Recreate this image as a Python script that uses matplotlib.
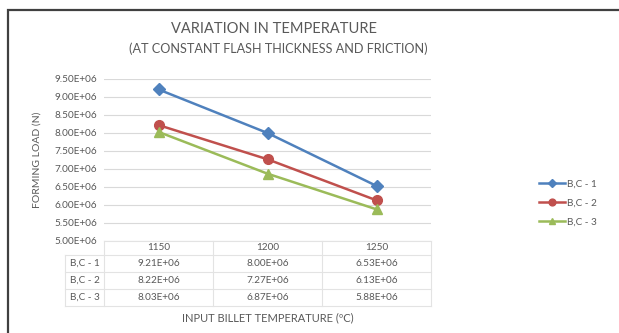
import matplotlib
matplotlib.use('Agg')
import matplotlib.pyplot as plt
from matplotlib.patches import Rectangle
from matplotlib.lines import Line2D
from matplotlib.ticker import FuncFormatter, MultipleLocator
from matplotlib.transforms import blended_transform_factory

plt.rcParams['font.family'] = ['Lato', 'DejaVu Sans']

# Data
temps = ['1150', '1200', '1250']
series_names = ['B,C - 1', 'B,C - 2', 'B,C - 3']
bc1 = [9.21e6, 8.00e6, 6.53e6]
bc2 = [8.22e6, 7.27e6, 6.13e6]
bc3 = [8.03e6, 6.87e6, 5.88e6]

colors = ['#4F81BD', '#C0504D', '#9BBB59']
markers = ['D', 'o', '^']
txt = '#595959'
grid_c = '#D9D9D9'
fs = 7.2

fig = plt.figure(figsize=(6.19, 3.33), dpi=100)
W, H = 619, 333

# outer chart frame (bottom/right run off the picture)
fig.patches.append(Rectangle((8 / W, -0.1), 1.2, 1 - 10 / H + 0.1,
                             transform=fig.transFigure, fill=False,
                             edgecolor='#404040', linewidth=1.6))

ax = fig.add_axes([104 / W, 1 - 241 / H, (431 - 104) / W, (241 - 79) / H])
x = range(len(temps))
for vals, name, c, m in zip([bc1, bc2, bc3], series_names, colors, markers):
    ax.plot(x, vals, color=c, marker=m, markersize=7 if m != 'D' else 6,
            linewidth=1.8, label=name)

ax.set_xlim(-0.5, 2.5)
ax.set_ylim(5.0e6, 9.5e6)
ax.yaxis.set_major_locator(MultipleLocator(0.5e6))
ax.yaxis.set_major_formatter(FuncFormatter(lambda v, p: f'{v:.2E}'))
ax.set_xticks([])
ax.tick_params(axis='y', length=0, labelsize=fs, labelcolor=txt, pad=5)
ax.grid(axis='y', color=grid_c, linewidth=0.8)
ax.set_axisbelow(True)
for s in ax.spines.values():
    s.set_visible(False)
ax.set_ylabel('FORMING LOAD (N)', fontsize=7.5, color=txt)
ax.yaxis.set_label_coords(-0.19, 0.5)

# data table under the plot
tr = blended_transform_factory(ax.transData, ax.transAxes)
def ya(py):
    return (241 - py) / 162.0

lab_left = -0.5 - (104 - 65) / 109.0
row_lines = [241, 255, 272, 289, 306]
kw = dict(transform=tr, color='#E3E3E3', linewidth=0.8, clip_on=False)
ax.add_line(Line2D([-0.5, 2.5], [ya(241), ya(241)], **kw))
for py in row_lines[1:]:
    ax.add_line(Line2D([lab_left, 2.5], [ya(py), ya(py)], **kw))
for xb in [-0.5, 0.5, 1.5, 2.5]:
    ax.add_line(Line2D([xb, xb], [ya(241), ya(306)], **kw))
ax.add_line(Line2D([lab_left, lab_left], [ya(255), ya(306)], **kw))

for i, t in enumerate(temps):
    ax.text(i, ya(248), t, transform=tr, ha='center', va='center',
            fontsize=fs, color=txt)
row_y = [263.5, 280.5, 297.5]
for r, (name, vals) in enumerate(zip(series_names, [bc1, bc2, bc3])):
    ax.text((lab_left - 0.5) / 2, ya(row_y[r]), name, transform=tr,
            ha='center', va='center', fontsize=fs, color=txt)
    for i, v in enumerate(vals):
        ax.text(i, ya(row_y[r]), f'{v:.2E}', transform=tr, ha='center',
                va='center', fontsize=fs, color=txt)

fig.text(268 / W, 1 - 318 / H, 'INPUT BILLET TEMPERATURE (\u00baC)',
         ha='center', va='center', fontsize=8, color=txt)

fig.text(274 / W, 1 - 29 / H, 'VARIATION IN TEMPERATURE',
         ha='center', va='center', fontsize=10.5, color=txt)
fig.text(278 / W, 1 - 49 / H, '(AT CONSTANT FLASH THICKNESS AND FRICTION)',
         ha='center', va='center', fontsize=9.1, color=txt)

fig.legend(loc='center left', bbox_to_anchor=(530 / W, 1 - 203 / H),
           frameon=False, fontsize=fs, labelcolor=txt, handlelength=2.6,
           handletextpad=0.2, labelspacing=1.0, markerscale=0.7)

fig.savefig('out.png', dpi=100)
